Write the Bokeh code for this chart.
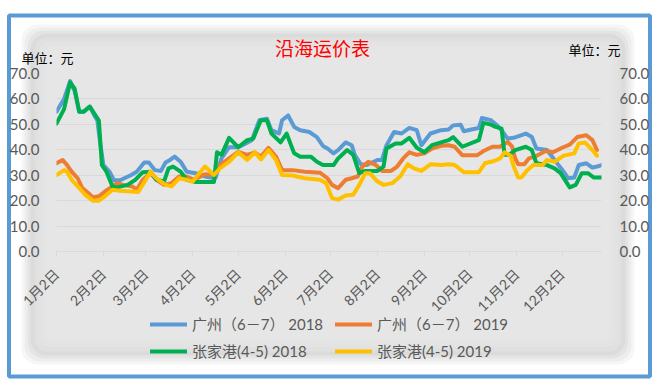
from math import pi
from bokeh.plotting import figure
from bokeh.models import (Range1d, FixedTicker, PrintfTickFormatter, LinearAxis,
                          Legend, LegendItem, BoxAnnotation, Label)
from bokeh.embed import file_html
from bokeh.resources import INLINE

# ---- data (x = days after Jan 2) ----
tick_days = [0, 31, 59, 90, 120, 151, 181, 212, 243, 273, 304, 334]
tick_labels = ["1月2日", "2月2日", "3月2日", "4月2日", "5月2日", "6月2日",
               "7月2日", "8月2日", "9月2日", "10月2日", "11月2日", "12月2日"]
y_ticks = [0, 10, 20, 30, 40, 50, 60, 70]

gz18_days = [0, 5, 9, 12, 15, 18, 22, 25, 27, 29, 31, 35, 38, 42, 49, 53, 58, 61, 65, 69, 72, 75, 78, 82, 86,
             92, 98, 105, 109, 114, 120, 125, 129, 134, 139, 142, 147, 149, 153, 157, 161, 167, 172, 176,
             179, 183, 186, 191, 195, 197, 201, 205, 212, 215, 218, 223, 228, 233, 238, 241, 247, 254, 259,
             262, 267, 269, 274, 279, 281, 287, 291, 294, 298, 302, 310, 314, 317, 324, 329, 335, 338, 342,
             345, 350, 354, 357, 360]
gz18_vals = [55, 60, 67, 63, 55, 55, 57, 53.5, 51.5, 42, 34, 31.4, 28, 28, 30, 31.4, 35, 35, 32, 31.7, 35, 36,
             37.3, 35.3, 31.4, 30.8, 29.5, 28.8, 36.6, 41, 41, 42.5, 43.8, 51.6, 52.2, 47.7, 46.4, 51.6, 53.5,
             49, 47.7, 47, 45, 41.5, 40.5, 38.6, 39.9, 42.9, 41.8, 38, 34.3, 34, 36, 36, 41.8, 47, 46.4, 48.6,
             47.7, 41.8, 46.4, 47.7, 48, 49.6, 49.8, 47.3, 48, 48.6, 52.5, 51.6, 49.6, 47.7, 44.4, 44.7, 46.4,
             45, 40.5, 39.9, 36, 31.4, 28.8, 29.1, 34, 34.7, 33, 33.4, 34]

gz19_days = [0, 4, 7, 10, 14, 17, 21, 24, 28, 32, 37, 40, 44, 50, 53, 57, 62, 66, 71, 76, 81, 86, 91, 98, 104,
             108, 114, 120, 126, 131, 135, 140, 145, 149, 156, 164, 174, 179, 182, 186, 191, 195, 199, 202,
             206, 211, 215, 221, 225, 229, 233, 238, 243, 248, 254, 259, 263, 268, 278, 282, 288, 293, 298,
             301, 303, 305, 309, 312, 316, 323, 328, 334, 339, 344, 350, 354, 357]
gz19_vals = [34.7, 36, 34, 31.4, 28.8, 25, 23, 21.3, 21.7, 23.6, 25.6, 26.9, 26.2, 25.6, 24.3, 28.2, 30.8, 28.2,
             26.2, 26.9, 29.5, 29.5, 28.2, 30.4, 30.1, 34, 36.6, 39.2, 38, 39, 37.3, 40.8, 37.3, 32, 32, 31.4,
             31, 28.8, 26.2, 24.9, 28.2, 28.8, 29.5, 33.4, 35.3, 34, 31.7, 31.7, 33.4, 36.6, 39, 38, 38.6,
             40.5, 41.6, 41.8, 41.2, 37.9, 37.9, 39.5, 41.2, 41.2, 43.1, 41.2, 36.6, 34.3, 34.3, 36.6, 37.3,
             39.5, 39, 40.8, 42, 45, 45.7, 43.8, 39.9]

zjg18_days = [0, 5, 9, 12, 15, 18, 22, 28, 30, 33, 37, 40, 47, 52, 57, 62, 66, 71, 74, 77, 82, 86, 92, 104,
              106, 109, 114, 120, 126, 130, 135, 139, 142, 148, 152, 157, 161, 168, 172, 176, 179, 183, 186,
              192, 196, 200, 204, 212, 216, 218, 224, 228, 233, 238, 243, 248, 254, 259, 262, 268, 279, 282,
              287, 290, 294, 296, 299, 303, 310, 314, 317, 324, 329, 333, 339, 343, 347, 351, 355, 360]
zjg18_vals = [50.3, 56, 66.5, 64, 55, 55, 57, 51.5, 34, 31.4, 25.6, 25.2, 26.2, 28.2, 31.2, 31.4, 28.2, 27.5,
              32.7, 33.4, 31.4, 28.2, 27.3, 27.3, 39, 38, 44.7, 41, 43.8, 44.4, 51.6, 51.6, 46.4, 42.9, 46.4,
              38.6, 37.3, 37.3, 35.3, 34, 34, 34, 36.6, 39.9, 38, 30.8, 31.7, 31.7, 33.4, 40.5, 42.5, 42.5,
              44.7, 40.8, 39, 41.8, 42.9, 43.8, 45, 41.2, 43.8, 50.6, 49.9, 49, 48.3, 38, 38, 39.9, 41.2, 39.9,
              34.7, 34, 32.7, 30.8, 25.2, 26.2, 30.8, 30.8, 29.1, 29.1]

zjg19_days = [0, 5, 7, 10, 15, 19, 24, 28, 32, 37, 42, 49, 54, 59, 62, 66, 72, 76, 81, 86, 90, 98, 104, 108,
              114, 120, 126, 131, 135, 140, 145, 149, 156, 164, 174, 178, 182, 186, 191, 196, 200, 204, 207,
              212, 216, 222, 227, 232, 236, 241, 247, 254, 259, 263, 269, 279, 283, 289, 293, 296, 300, 302,
              305, 307, 311, 315, 321, 324, 329, 335, 342, 345, 349, 354, 357]
zjg19_vals = [30.1, 32, 31.4, 28.2, 25, 22.3, 20, 20, 21.7, 24.3, 23.9, 23.6, 23.4, 28.2, 31.4, 28.8, 26.2,
              25.6, 28.8, 28.2, 27.5, 33.4, 30.1, 32.7, 35.3, 39, 36, 39, 36.2, 39.9, 36, 30.1, 29.9, 28.8,
              28.2, 26.9, 21, 20.4, 22, 22.3, 26.2, 30.8, 30.8, 27.5, 26.2, 26.9, 29.5, 34.3, 32.7, 31.7, 34.3,
              34, 34.3, 34, 31.2, 31.2, 34.7, 35.6, 36.6, 39, 37.7, 33.4, 29.1, 29.1, 32, 34, 34, 36, 35.3,
              37.7, 38.6, 42.5, 42.9, 39.9, 37.7]

series_names = ["广州（6－7） 2018", "广州（6－7） 2019", "张家港(4-5) 2018", "张家港(4-5) 2019"]
series_colors = ["#5B9BD5", "#ED7D31", "#00B050", "#FFC000"]
title_text = "沿海运价表"
unit_text = "单位：元"

W, H = 658, 381
X0, X1, Y0, Y1 = 0, 360, 0, 70          # data ranges
BL, BR, BT, BB = 56, 57, 73, 130         # plot borders (px)
LAT = "Lato, 'Noto Sans CJK SC', sans-serif"
CJK = "'Noto Sans CJK SC', sans-serif"
GREY_TXT = "#595959"

data = [(gz18_days, gz18_vals), (gz19_days, gz19_vals), (zjg18_days, zjg18_vals), (zjg19_days, zjg19_vals)]

# ---------- background figure: frame, shaded panel, title, unit notes, legend ----------
bg = figure(width=W, height=H, output_backend="svg", toolbar_location=None,
            x_range=Range1d(0, W), y_range=Range1d(H, 0),
            x_axis_type=None, y_axis_type=None, min_border=0)
bg.outline_line_color = None
bg.border_fill_color = "white"
bg.background_fill_color = "white"

# ranges that map the data onto the same pixels as the foreground plot frame
sx = (W - BL - BR) / (X1 - X0)
sy = (H - BT - BB) / (Y1 - Y0)
bg.extra_x_ranges = {"days": Range1d(X0 - BL / sx, X1 + BR / sx)}
bg.extra_y_ranges = {"vals": Range1d(Y0 - BB / sy, Y1 + BT / sy)}


def pbox(l, r, t, b, **kw):
    bg.add_layout(BoxAnnotation(left=l, right=r, top=t, bottom=b, line_color=None, **kw))


RL, RR, RT, RB = 30, 625, 33, 355
for ins in (-9, -6, -3, 0):
    pbox(RL + ins, RR - ins, RT + ins, RB - ins, fill_color="black", fill_alpha=0.035,
         border_radius=16)
for ins in (4, 8, 12):
    pbox(RL + ins, RR - ins, RT + ins, RB - ins, fill_color="#e9e9e9", fill_alpha=0.4,
         border_radius=12)
pbox(RL + 16, RR - 16, RT + 16, RB - 16, fill_color="#e6e6e6", fill_alpha=1.0, border_radius=10)

bg.add_layout(BoxAnnotation(left=8.5, right=649.5, top=15, bottom=376, fill_color=None,
                            line_color="#5B9BD5", line_alpha=1.0, line_width=4))

bg.add_layout(Label(x=322, y=47, text=title_text, text_font=CJK, text_font_size="19px",
                    text_color="#FF0000", text_align="center", text_baseline="middle"))
bg.add_layout(Label(x=21, y=56.5, text=unit_text, text_font=CJK, text_font_size="13px",
                    text_color="black", text_align="left", text_baseline="middle"))
bg.add_layout(Label(x=568, y=48.5, text=unit_text, text_font=CJK, text_font_size="13px",
                    text_color="black", text_align="left", text_baseline="middle"))

# series drawn on the background too (hidden under the foreground lines) for the legend
leg_items = []
for (xs, ys), name, col in zip(data, series_names, series_colors):
    r = bg.line(xs, ys, x_range_name="days", y_range_name="vals",
                line_width=4, line_color=col, line_join="round", line_cap="round")
    leg_items.append(LegendItem(label=name, renderers=[r]))
legend = Legend(items=leg_items, location=(150, 20), orientation="horizontal", ncols=2,
                background_fill_alpha=0, border_line_alpha=0, padding=0, margin=0,
                spacing=6, glyph_width=37, glyph_height=20, label_height=20,
                label_width=137, label_standoff=5,
                label_text_font=LAT, label_text_font_size="15px", label_text_color=GREY_TXT)
bg.add_layout(legend)

# ---------- foreground figure: axes, grid, data lines ----------
p = figure(width=W, height=H, output_backend="svg", toolbar_location=None,
           x_range=Range1d(X0, X1), y_range=Range1d(Y0, Y1),
           min_border_left=BL, min_border_right=BR, min_border_top=BT, min_border_bottom=BB,
           styles={"position": "absolute", "top": "0px", "left": "0px", "z-index": "1"})
p.background_fill_color = None
p.border_fill_color = None
p.outline_line_color = None

p.xgrid.visible = False
p.ygrid.grid_line_color = "#d9d9d9"
p.ygrid.grid_line_width = 1
p.ygrid.ticker = FixedTicker(ticks=y_ticks)

xa = p.xaxis[0]
xa.ticker = FixedTicker(ticks=tick_days)
xa.major_label_overrides = {d: t for d, t in zip(tick_days, tick_labels)}
xa.major_label_orientation = pi / 4
xa.axis_line_color = "#d9d9d9"
xa.major_tick_line_color = "#d9d9d9"
xa.major_tick_in = 0
xa.major_tick_out = 5
xa.minor_tick_line_color = None
xa.major_label_standoff = 15
xa.major_label_text_font = LAT
xa.major_label_text_font_size = "14px"
xa.major_label_text_color = GREY_TXT

ya = p.yaxis[0]
ra = LinearAxis()
p.add_layout(ra, "right")
for ax, st in ((ya, 11), (ra, 12)):
    ax.ticker = FixedTicker(ticks=y_ticks)
    ax.formatter = PrintfTickFormatter(format="%.1f")
    ax.axis_line_color = None
    ax.major_tick_line_color = None
    ax.minor_tick_line_color = None
    ax.major_label_standoff = st
    ax.major_label_text_font = LAT
    ax.major_label_text_font_size = "15px"
    ax.major_label_text_color = GREY_TXT

for (xs, ys), col in zip(data, series_colors):
    p.line(xs, ys, line_width=4, line_color=col, line_join="round", line_cap="round")

open("out.html", "w").write(file_html([bg, p], INLINE))
